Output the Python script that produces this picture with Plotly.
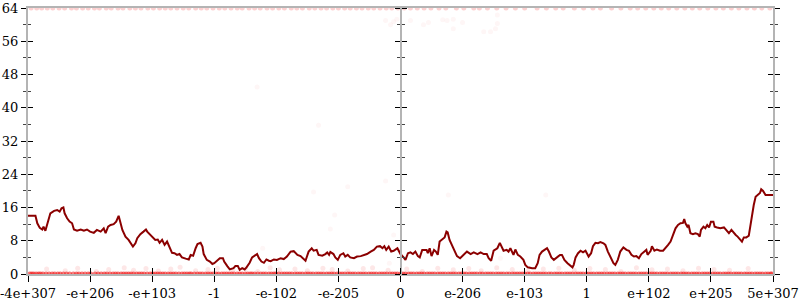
import plotly.graph_objects as go

# x positions are in "ordinal float" tick units: -6 .. 6 (tick labels below)
tick_pos = [-6, -5, -4, -3, -2, -1, 0, 1, 2, 3, 4, 5, 6]
tick_text = ["-4e+307", "-e+206", "-e+103", "-1", "-e-102", "-e-205", "0",
             "e-206", "e-103", "1", "e+102", "e+205", "5e+307"]

# average error line
line_x = [-6.00, -5.88, -5.85, -5.81, -5.77, -5.75, -5.72, -5.69, -5.64, -5.58, -5.53, -5.49, -5.46, -5.43,
          -5.41, -5.37, -5.33, -5.29, -5.26, -5.21, -5.15, -5.10, -5.05, -5.00, -4.94, -4.89, -4.83, -4.78,
          -4.75, -4.71, -4.67, -4.62, -4.58, -4.54, -4.51, -4.48, -4.43, -4.38, -4.31, -4.27, -4.24, -4.19,
          -4.14, -4.10, -4.08, -4.00, -3.95, -3.91, -3.88, -3.84, -3.80, -3.76, -3.72, -3.68, -3.64, -3.60,
          -3.56, -3.52, -3.46, -3.41, -3.38, -3.34, -3.30, -3.27, -3.22, -3.19, -3.17, -3.12, -3.07, -3.03,
          -3.00, -2.95, -2.91, -2.86, -2.84, -2.79, -2.75, -2.69, -2.66, -2.62, -2.59, -2.55, -2.51, -2.48,
          -2.43, -2.39, -2.35, -2.31, -2.28, -2.24, -2.20, -2.16, -2.12, -2.09, -2.04, -1.99, -1.93, -1.88,
          -1.83, -1.77, -1.72, -1.66, -1.61, -1.57, -1.53, -1.48, -1.43, -1.40, -1.35, -1.32, -1.26, -1.21,
          -1.18, -1.15, -1.13, -1.08, -1.05, -1.01, -0.97, -0.92, -0.89, -0.85, -0.81, -0.75, -0.70, -0.64,
          -0.59, -0.54, -0.48, -0.43, -0.38, -0.33, -0.29, -0.26, -0.23, -0.19, -0.15, -0.11, -0.05, 0.00,
          0.05, 0.08, 0.12, 0.16, 0.20, 0.24, 0.28, 0.31, 0.35, 0.39, 0.42, 0.44, 0.47, 0.50, 0.54, 0.57,
          0.60, 0.63, 0.67, 0.71, 0.74, 0.76, 0.79, 0.83, 0.87, 0.91, 0.96, 1.02, 1.07, 1.13, 1.18, 1.24,
          1.29, 1.34, 1.39, 1.42, 1.46, 1.50, 1.56, 1.60, 1.62, 1.66, 1.71, 1.74, 1.77, 1.82, 1.85, 1.89,
          1.93, 1.98, 2.01, 2.05, 2.12, 2.17, 2.21, 2.24, 2.28, 2.32, 2.36, 2.39, 2.43, 2.47, 2.51, 2.57,
          2.60, 2.64, 2.69, 2.73, 2.77, 2.79, 2.82, 2.86, 2.90, 2.94, 2.98, 3.03, 3.07, 3.10, 3.14, 3.18,
          3.22, 3.27, 3.30, 3.34, 3.38, 3.43, 3.46, 3.50, 3.54, 3.59, 3.64, 3.68, 3.72, 3.76, 3.80, 3.84,
          3.88, 3.92, 3.96, 3.98, 4.03, 4.05, 4.09, 4.13, 4.18, 4.23, 4.27, 4.31, 4.35, 4.38, 4.40, 4.43,
          4.47, 4.51, 4.55, 4.57, 4.59, 4.62, 4.64, 4.67, 4.71, 4.75, 4.79, 4.82, 4.84, 4.88, 4.91, 4.94,
          4.97, 5.00, 5.04, 5.06, 5.10, 5.15, 5.21, 5.25, 5.29, 5.33, 5.36, 5.40, 5.43, 5.48, 5.50, 5.53,
          5.57, 5.61, 5.64, 5.67, 5.69, 5.72, 5.76, 5.79, 5.81, 5.84, 5.88, 6.00]
line_y = [14.0, 14.0, 12.2, 11.1, 10.7, 11.4, 10.4, 12.2, 14.6, 15.2, 15.4, 15.0, 15.8, 16.0,
          14.6, 13.4, 12.6, 12.2, 10.7, 10.4, 10.7, 10.4, 10.7, 10.2, 9.9, 10.6, 10.2, 11.0,
          9.8, 11.4, 11.8, 12.0, 12.6, 14.0, 12.2, 10.6, 9.0, 8.2, 6.6, 7.4, 8.6, 9.6,
          10.2, 10.7, 10.2, 9.1, 8.2, 8.3, 7.5, 8.2, 7.0, 7.8, 6.2, 5.1, 5.0, 4.6,
          4.8, 4.0, 3.7, 3.5, 4.6, 4.4, 6.2, 7.2, 7.5, 6.6, 4.8, 3.4, 3.0, 2.4,
          2.6, 3.4, 3.8, 3.8, 3.0, 1.9, 1.1, 1.4, 1.9, 1.9, 1.0, 1.4, 1.1, 1.6,
          2.7, 4.0, 4.3, 4.8, 3.8, 3.0, 2.7, 3.5, 3.2, 3.1, 3.5, 3.4, 3.8, 3.6,
          4.2, 5.4, 5.5, 4.6, 4.3, 3.8, 3.2, 5.4, 6.2, 5.6, 5.8, 4.6, 4.4, 4.8,
          5.2, 4.6, 5.3, 4.8, 4.0, 3.4, 4.6, 5.0, 4.2, 4.6, 4.0, 3.8, 4.2, 4.3,
          4.6, 4.8, 5.4, 5.8, 6.6, 6.7, 6.2, 6.7, 5.8, 6.6, 5.4, 5.6, 6.2, 4.8,
          4.0, 3.4, 5.0, 5.2, 4.8, 5.4, 4.3, 4.0, 5.8, 5.9, 5.8, 5.0, 6.2, 4.3, 5.8, 5.4,
          4.6, 7.8, 8.2, 8.8, 10.2, 10.0, 8.2, 7.0, 5.6, 4.3, 3.8, 4.8, 5.4, 4.8, 5.2, 4.8,
          5.2, 4.8, 4.8, 3.8, 3.2, 5.6, 6.2, 7.5, 6.7, 5.6, 5.8, 5.4, 6.2, 4.6, 5.9, 4.6,
          4.2, 3.4, 2.2, 1.6, 1.4, 1.4, 2.6, 4.6, 5.4, 5.9, 6.2, 5.4, 4.0, 3.4, 3.8, 4.6,
          4.6, 3.4, 2.6, 2.2, 1.6, 2.2, 4.0, 5.0, 5.6, 5.2, 5.6, 4.2, 5.0, 6.7, 7.5, 7.4,
          7.7, 7.4, 7.0, 5.4, 4.0, 2.6, 2.2, 3.4, 5.4, 6.4, 5.8, 5.6, 4.6, 4.2, 4.3, 3.8,
          4.8, 5.4, 5.8, 4.6, 5.6, 6.7, 5.6, 5.9, 5.6, 5.6, 6.2, 7.0, 7.8, 9.0, 9.6, 11.0,
          11.8, 12.2, 12.3, 13.2, 12.2, 11.4, 11.8, 9.8, 9.6, 9.8, 9.6, 9.0, 10.6, 11.4, 11.0, 11.8,
          11.2, 12.6, 12.6, 11.4, 11.2, 11.0, 11.2, 10.6, 9.8, 10.6, 10.0, 9.4, 9.0, 8.2, 7.8, 8.8,
          8.8, 9.2, 12.2, 14.6, 16.6, 18.6, 19.2, 19.5, 20.4, 20.0, 19.0, 19.0]

# individual sample errors (faint points)
zero_x = [-5.97, -5.94, -5.91, -5.87, -5.83, -5.80, -5.76, -5.71, -5.66, -5.61, -5.57, -5.52, -5.48, -5.43,
          -5.38, -5.33, -5.27, -5.22, -5.18, -5.13, -5.08, -5.03, -4.99, -4.92, -4.87, -4.82, -4.77, -4.73,
          -4.68, -4.63, -4.59, -4.55, -4.50, -4.46, -4.42, -4.38, -4.34, -4.30, -4.25, -4.21, -4.17, -4.13,
          -4.08, -4.03, -3.99, -3.95, -3.91, -3.87, -3.83, -3.79, -3.74, -3.70, -3.66, -3.62, -3.57, -3.52,
          -3.48, -3.44, -3.40, -3.37, -3.32, -3.27, -3.23, -3.19, -3.14, -3.10, -3.06, -3.02, -2.97, -2.93,
          -2.88, -2.84, -2.80, -2.76, -2.72, -2.68, -2.63, -2.59, -2.55, -2.50, -2.46, -2.42, -2.39, -2.35,
          -2.30, -2.25, -2.21, -2.17, -2.12, -2.08, -2.04, -2.01, -1.96, -1.91, -1.87, -1.83, -1.79, -1.75,
          -1.70, -1.66, -1.62, -1.58, -1.53, -1.49, -1.45, -1.41, -1.36, -1.32, -1.28, -1.24, -1.19, -1.15,
          -1.11, -1.07, -1.02, -0.98, -0.94, -0.90, -0.85, -0.81, -0.77, -0.73, -0.68, -0.64, -0.60, -0.56,
          -0.51, -0.47, -0.43, -0.39, -0.34, -0.30, -0.26, -0.22, -0.17, -0.13, -0.09, -0.05, 0.00, 0.04,
          0.08, 0.13, 0.17, 0.21, 0.26, 0.30, 0.34, 0.38, 0.43, 0.47, 0.51, 0.55, 0.60, 0.64, 0.68, 0.72,
          0.77, 0.81, 0.85, 0.89, 0.94, 0.98, 1.02, 1.06, 1.11, 1.15, 1.19, 1.23, 1.28, 1.32, 1.37, 1.41,
          1.45, 1.49, 1.54, 1.58, 1.62, 1.66, 1.71, 1.75, 1.80, 1.84, 1.88, 1.92, 1.96, 2.00, 2.05, 2.09,
          2.14, 2.18, 2.22, 2.26, 2.30, 2.34, 2.39, 2.43, 2.48, 2.52, 2.56, 2.60, 2.65, 2.69, 2.73, 2.77,
          2.82, 2.86, 2.90, 2.94, 2.99, 3.03, 3.07, 3.11, 3.16, 3.20, 3.24, 3.28, 3.33, 3.37, 3.41, 3.45,
          3.50, 3.54, 3.58, 3.62, 3.67, 3.71, 3.75, 3.79, 3.84, 3.88, 3.92, 3.96, 4.01, 4.05, 4.09, 4.13,
          4.18, 4.22, 4.26, 4.30, 4.35, 4.39, 4.43, 4.47, 4.52, 4.56, 4.60, 4.64, 4.69, 4.73, 4.77, 4.81,
          4.86, 4.90, 4.94, 4.98, 5.03, 5.07, 5.11, 5.15, 5.20, 5.24, 5.28, 5.32, 5.37, 5.41, 5.45, 5.49,
          5.54, 5.58, 5.62, 5.66, 5.71, 5.75, 5.79, 5.83, 5.88, 5.92, 5.96, 5.98]
low_x = [-5.7, -5.4, -5.2, -4.9, -4.7, -4.45, -4.3, -4.1, -3.9, -3.7, -3.55, -3.3, -3.1, -2.95, -2.7,
         -2.5, -2.3, -2.1, -1.95, -1.7, -1.5, -1.25, -1.1, -0.85, -0.6, -0.45, -0.2, 0.1, 0.35, 0.6, 0.85,
         1.1, 1.3, 1.55, 1.8, 2.05, 2.3, 2.55, 2.8, 3.05, 3.3, 3.55, 3.8, 4.05, 4.3, 4.55, 4.8, 5.05, 5.3, 5.6]
low_y = [1.2, 0.8, 1.4, 0.6, 1.1, 1.5, 0.9, 1.3, 0.7, 1.2, 1.6, 0.8, 1.1, 1.4, 0.9, 1.3, 0.6, 1.5, 1.0,
         1.2, 0.8, 1.4, 1.1, 0.7, 1.3, 1.5, 0.9, 1.2, 0.6, 1.4, 1.0, 1.3, 0.8, 1.5, 1.1, 0.7, 1.2, 1.4,
         0.9, 1.3, 1.1, 0.6, 1.5, 1.0, 1.2, 0.8, 1.4, 1.1, 0.9, 1.3]
top_x = [-5.95, -5.86, -5.78, -5.69, -5.6, -5.5, -5.41, -5.3, -5.22, -5.12, -5.03, -4.93, -4.85, -4.74,
         -4.66, -4.55, -4.47, -4.36, -4.27, -4.18, -4.07, -3.98, -3.88, -3.79, -3.7, -3.6, -3.5, -3.41,
         -3.3, -3.21, -3.12, -3.02, -2.92, -2.83, -2.73, -2.63, -2.55, -2.44, -2.35, -2.26, -2.15, -2.06,
         -1.96, -1.87, -1.76, -1.67, -1.58, -1.47, -1.38, -1.28, -1.19, -1.09, -1.0, -0.9, -0.81, -0.71,
         -0.62, -0.52, -0.43, -0.33, -0.23, -0.14, -0.04, 0.06, 0.16, 0.27, 0.38, 0.49, 0.62, 0.73,
         0.9, 1.02, 1.18, 1.27, 1.4, 1.55, 1.7, 1.85, 2.0, 2.2, 2.35, 2.5, 2.62, 2.8, 2.95, 3.1, 3.22,
         3.4, 3.55, 3.7, 3.82, 3.95, 4.08, 4.2, 4.32, 4.45, 4.58, 4.7, 4.82, 4.95, 5.08, 5.2, 5.33,
         5.45, 5.58, 5.7, 5.82, 5.95]
mid_x = [-0.24, -0.16, -0.11, -0.06, 0.16, 0.37, 0.45, 0.68, 0.75, 0.85, 0.85, 1.0, 1.34, 1.45, 1.53,
         1.56, 1.56, -1.40, -0.85, -0.24, -1.06, -1.13, -2.22, -0.18, -0.11, 0.77, 1.61, 2.34, -1.32, -2.31]
mid_y = [61.0, 60.0, 60.7, 61.3, 61.0, 60.0, 60.5, 61.2, 61.0, 61.3, 59.0, 60.5, 58.3, 58.3, 59.0,
         60.3, 62.3, 19.7, 21.0, 22.4, 14.2, 10.8, 6.2, 2.6, 9.4, 19.0, 3.8, 19.0, 35.8, 45.0]

font = dict(family="DejaVu Serif", size=13, color="black")
pt_color = "rgb(240,20,20)"

fig = go.Figure()
fig.add_trace(go.Scatter(x=zero_x, y=[0] * len(zero_x), mode="markers",
                         marker=dict(size=5, color=pt_color, opacity=0.55, line=dict(width=0)),
                         hoverinfo="skip"))
fig.add_trace(go.Scatter(x=low_x, y=low_y, mode="markers",
                         marker=dict(size=5, color=pt_color, opacity=0.1, line=dict(width=0)),
                         hoverinfo="skip"))
fig.add_trace(go.Scatter(x=top_x, y=[64] * len(top_x), mode="markers",
                         marker=dict(size=5, color=pt_color, opacity=0.2, line=dict(width=0)),
                         hoverinfo="skip"))
fig.add_trace(go.Scatter(x=mid_x, y=mid_y, mode="markers",
                         marker=dict(size=5, color=pt_color, opacity=0.04, line=dict(width=0)),
                         hoverinfo="skip"))
fig.add_trace(go.Scatter(x=line_x, y=line_y, mode="lines",
                         line=dict(color="#8b0000", width=2), hoverinfo="skip"))
# helper (empty) traces so the overlay axes used for crossing ticks are drawn
fig.add_trace(go.Scatter(x=[], y=[], xaxis="x2", yaxis="y2", showlegend=False))
fig.add_trace(go.Scatter(x=[], y=[], xaxis="x", yaxis="y3", showlegend=False))
fig.add_trace(go.Scatter(x=[], y=[], xaxis="x", yaxis="y4", showlegend=False))

axis_line = "#b4b4b4"
yminor_out = dict(dtick=4, ticklen=3, tickcolor="#444", ticks="outside")
yminor_in = dict(dtick=4, ticklen=3, tickcolor="#444", ticks="inside")

fig.update_layout(
    width=800, height=300,
    margin=dict(l=28, r=27, t=8, b=26),
    plot_bgcolor="white", paper_bgcolor="white",
    showlegend=False,
    font=font,
    xaxis=dict(range=[-6, 6], tickvals=tick_pos, ticktext=tick_text, ticks="outside",
               ticklen=6, tickcolor="black", tickwidth=1, showline=True, linecolor=axis_line,
               linewidth=2, mirror=True, showgrid=False, zeroline=False, tickfont=font,
               automargin=False, ticklabeloverflow="allow"),
    xaxis2=dict(range=[-6, 6], overlaying="x", anchor="y2", tickvals=tick_pos, ticks="inside",
                ticklen=6, tickcolor="black", showticklabels=False, showline=False,
                showgrid=False, zeroline=False, automargin=False),
    yaxis=dict(range=[0, 64], dtick=8, ticks="outside", ticklen=5, tickcolor="black",
               minor=yminor_out, showline=True, linecolor=axis_line, linewidth=2,
               mirror="ticks", showgrid=False, zeroline=False, tickfont=font, automargin=False,
               ticklabeloverflow="allow"),
    yaxis2=dict(range=[0, 64], dtick=8, overlaying="y", anchor="x2", ticks="inside",
                ticklen=5, tickcolor="black", minor=yminor_in, mirror="ticks",
                showticklabels=False, showline=False, showgrid=False, zeroline=False,
                automargin=False),
    yaxis3=dict(range=[0, 64], dtick=8, overlaying="y", anchor="free", position=0.5,
                ticks="outside", ticklen=5, tickcolor="black", minor=yminor_out,
                showticklabels=False, showline=True, linecolor=axis_line, linewidth=2,
                showgrid=False, zeroline=False, automargin=False),
    yaxis4=dict(range=[0, 64], dtick=8, overlaying="y", anchor="free", position=0.5,
                side="right", ticks="outside", ticklen=5, tickcolor="black", minor=yminor_out,
                showticklabels=False, showline=False, showgrid=False, zeroline=False,
                automargin=False),
)

fig.write_html("out.html")
